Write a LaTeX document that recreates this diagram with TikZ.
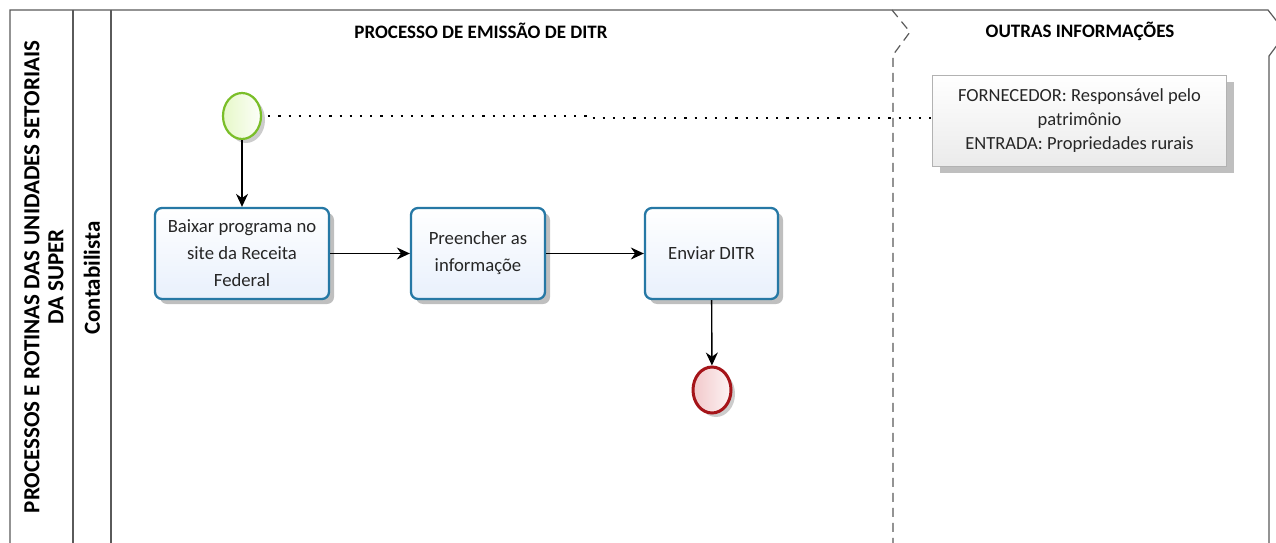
\documentclass[tikz,border=0pt]{standalone}
\usepackage{fontspec}
\setmainfont{Carlito}
\usetikzlibrary{shadows,arrows.meta,shapes.geometric}
\definecolor{taskline}{RGB}{38,120,165}
\definecolor{taskfill}{RGB}{232,240,252}
\definecolor{startline}{RGB}{122,190,40}
\definecolor{startfill}{RGB}{230,248,200}
\definecolor{endline}{RGB}{165,20,25}
\definecolor{endfill}{RGB}{242,200,202}
\definecolor{frame}{RGB}{90,90,90}
\tikzset{
  poolline/.style={draw=frame, line width=1.2pt},
  task/.style={draw=taskline, line width=2.3pt, rounded corners=7pt,
    top color=white, bottom color=taskfill, minimum height=91pt,
    align=center, font=\fontsize{18.7}{27}\selectfont, text=black!85,
    drop shadow={shadow xshift=5pt, shadow yshift=-5pt, opacity=0.25, fill=black}},
  startev/.style={ellipse, draw=startline, line width=2.2pt, left color=startfill, right color=white!90!startfill,
    minimum width=38pt, minimum height=46pt, inner sep=0pt,
    drop shadow={shadow xshift=4pt, shadow yshift=-4pt, opacity=0.2, fill=black}},
  endev/.style={ellipse, draw=endline, line width=3pt, left color=endfill, right color=white!80!endfill,
    minimum width=38pt, minimum height=46pt, inner sep=0pt,
    drop shadow={shadow xshift=4pt, shadow yshift=-4pt, opacity=0.2, fill=black}},
  flow/.style={draw=black, line width=1.4pt, -{Stealth[length=13pt,width=12pt]}},
  annot/.style={draw=black!30, line width=1pt, top color=white, bottom color=black!8,
    minimum width=294pt, minimum height=91pt, align=center,
    font=\fontsize{18.5}{24}\selectfont, text=black!85,
    drop shadow={shadow xshift=7pt, shadow yshift=-7pt, opacity=0.25, fill=black}},
  assoc/.style={draw=black, line width=2.2pt, dash pattern=on 2.2pt off 8pt},
  title/.style={font=\bfseries\fontsize{19}{20}\selectfont},
}
\begin{document}
\begin{tikzpicture}[x=1pt,y=-1pt]
\useasboundingbox[fill=white] (0,0) rectangle (1276,543);
% pool frame
\draw[poolline] (10,543) -- (10,10) -- (1268,10) -- (1286,33) -- (1269,56) -- (1269,543);
\draw[poolline] (73,10) -- (73,543);
\draw[poolline] (111,10) -- (111,543);
\draw[poolline, dash pattern=on 9pt off 6pt] (892,10) -- (910,32) -- (893,55) -- (893,543);
% titles
\node[title] (t1) at (481,31) {PROCESSO DE EMISSÃO DE DITR};
\node[title] (t2) at (1080,31) {OUTRAS INFORMAÇÕES};
\node[rotate=90, align=center, font=\bfseries\fontsize{23}{24}\selectfont] (pool) at (44,277)
  {PROCESSOS E ROTINAS DAS UNIDADES SETORIAIS\\DA SUPER};
\node[rotate=90, font=\bfseries\fontsize{23}{24}\selectfont] (lane) at (92,278) {Contabilista};
% nodes
\node[startev] (start) at (242,116) {};
\node[task, minimum width=174pt] (t1b) at (242,253.5) {Baixar programa no\\site da Receita\\Federal};
\node[task, minimum width=134pt] (t2b) at (478,253.5) {Preencher as\\informaçõe};
\node[task, minimum width=133pt] (t3b) at (711.5,253.5) {Enviar DITR};
\node[endev] (end) at (712,390) {};
\node[annot] (ann) at (1079.5,120.5) {FORNECEDOR: Responsável pelo\\patrimônio\\ENTRADA: Propriedades rurais};
% connectors
\draw[flow] (start) -- (t1b);
\draw[flow] (t1b) -- (t2b);
\draw[flow] (t2b) -- (t3b);
\draw[flow] (t3b) -- (end);
\draw[assoc] ([xshift=6pt]start.east) -- (590,116) -- (590,118) -- (ann.west |- 0,118);
\end{tikzpicture}
\end{document}
